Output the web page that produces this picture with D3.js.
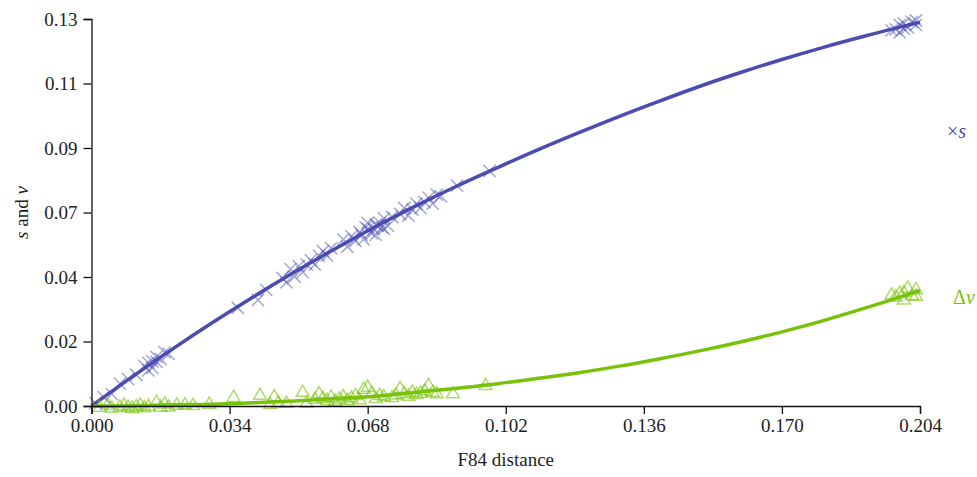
<!DOCTYPE html>
<html>
<head>
<meta charset="utf-8">
<script src="https://cdn.jsdelivr.net/npm/d3@7"></script>
<style>
body{margin:0;background:#fff}
svg text{font-family:"Liberation Serif","Times New Roman",Times,"DejaVu Serif",serif}
</style>
</head>
<body>
<div class="chart"></div>
<script>
// x ticks and y ticks
let xTicks=[0,0.034,0.068,0.102,0.136,0.170,0.204]
let yTicks=[0,0.13/6,0.26/6,0.39/6,0.52/6,0.65/6,0.13]

// fitted curves
let curveX=[0,0.01,0.02,0.03,0.04,0.05,0.06,0.07,0.08,0.09,0.1,0.11,0.12,0.13,0.14,0.15,0.16,0.17,0.18,0.19,0.2,0.204]
let sCurve=[0,0.0098,0.0192,0.0282,0.0368,0.045,0.0528,0.0603,0.0673,0.0739,0.0801,0.0861,0.0918,0.0973,0.1025,0.1075,0.1121,0.1164,0.1204,0.1241,0.1276,0.1289]
let vCurve=[0,0.0001,0.0004,0.0006,0.0011,0.0017,0.0025,0.0033,0.0046,0.006,0.0075,0.0093,0.0112,0.0134,0.0159,0.0186,0.0216,0.0249,0.0286,0.0327,0.0370,0.0388]

// scattered s points
let sPoints=[[0.001,0.001],[0.003,0.003],[0.005,0.004],[0.007,0.0075],[0.009,0.009],[0.011,0.0105],[0.013,0.0135],[0.014,0.0145],[0.015,0.015],[0.016,0.0165],[0.017,0.0158],[0.018,0.018],[0.019,0.0175],[0.014,0.012],[0.016,0.0148],[0.015,0.0128],
[0.036,0.033],[0.041,0.0356],[0.043,0.039],
[0.047,0.043],[0.048,0.0415],[0.049,0.046],[0.050,0.0435],[0.051,0.047],[0.052,0.045],[0.053,0.0475],[0.054,0.049],[0.055,0.0475],[0.056,0.0505],[0.057,0.052],[0.058,0.0505],[0.059,0.053],
[0.062,0.056],[0.063,0.0535],[0.064,0.057],[0.065,0.0555],[0.066,0.0585],[0.067,0.056],[0.068,0.0595],[0.068,0.0615],[0.069,0.058],[0.070,0.061],[0.070,0.0575],[0.071,0.0615],[0.072,0.0595],[0.072,0.063],[0.073,0.0605],[0.074,0.0635],
[0.0665,0.0575],[0.0675,0.06],[0.0695,0.0595],[0.0705,0.0605],[0.0715,0.06],
[0.076,0.0645],[0.077,0.0665],[0.078,0.064],[0.079,0.066],[0.080,0.068],[0.081,0.0665],[0.082,0.0685],[0.083,0.07],[0.084,0.068],[0.085,0.071],[0.086,0.0705],
[0.090,0.074],[0.098,0.079],
[0.198,0.1265],[0.199,0.1255],[0.199,0.128],[0.200,0.1268],[0.2,0.1285],[0.201,0.1272],[0.202,0.129],[0.203,0.1295],[0.203,0.128],[0.197,0.1262]]

// scattered v points
let vPoints=[[0.002,-0.0005],[0.004,0.0002],[0.005,-0.0008],[0.007,-0.0004],[0.008,0.0001],[0.009,-0.0006],[0.010,-0.0009],[0.011,-0.0003],[0.012,0.0002],[0.013,-0.0007],[0.014,-0.0002],[0.016,0.0012],[0.017,-0.0005],[0.018,0.0006],[0.019,-0.0004],[0.021,0.0002],[0.023,0.0003],[0.025,0.0001],[0.029,0.0005],[0.035,0.0028],
[0.044,0.0005],[0.046,0.001],[0.048,0.0008],
[0.0415,0.0035],[0.045,0.003],
[0.052,0.0045],[0.053,0.0008],[0.055,0.0022],[0.056,0.004],[0.057,0.0025],[0.058,0.0018],[0.059,0.0028],[0.06,0.0015],[0.061,0.0022],[0.062,0.003],[0.063,0.0018],[0.064,0.0026],[0.065,0.0034],[0.066,0.002],[0.067,0.0055],[0.068,0.0062],[0.069,0.0042],[0.070,0.0024],[0.071,0.0035],[0.072,0.003],
[0.074,0.0028],[0.075,0.0036],[0.076,0.0058],[0.077,0.004],[0.078,0.0032],[0.079,0.0045],[0.080,0.0038],[0.081,0.0042],[0.082,0.005],[0.083,0.0068],[0.084,0.0045],[0.085,0.004],[0.089,0.004],
[0.097,0.0068],
[0.198,0.0365],[0.199,0.0378],[0.2,0.038],[0.200,0.0355],[0.201,0.0395],[0.202,0.037],[0.203,0.039],[0.203,0.0368],[0.197,0.0372]]

let w=977, h=477
let padL=91.5, padR=920, padT=19, padB=406
let blue='#4b4bb4', green='#78c30a'

let svg=d3.select('.chart').append('svg').attr('width',w).attr('height',h)
let xScale=d3.scaleLinear().domain([0,0.204]).range([padL,padR])
let yScale=d3.scaleLinear().domain([0,0.13]).range([padB,padT])

// lines
let line=d3.line().x((d)=>xScale(d[0])).y((d)=>yScale(d[1])).curve(d3.curveMonotoneX)
svg.append('path').datum(curveX.map((x,i)=>[x,sCurve[i]])).attr('d',line)
    .attr('fill','none').attr('stroke',blue).attr('stroke-width',3.5)
svg.append('path').datum(curveX.map((x,i)=>[x,vCurve[i]])).attr('d',line)
    .attr('fill','none').attr('stroke',green).attr('stroke-width',3.5)

// markers
let cross=d3.symbol(d3.symbolX,100)
svg.selectAll('.sdot').data(sPoints).enter().append('path').attr('class','sdot')
    .attr('d',cross).attr('transform',(d)=>'translate('+xScale(d[0])+','+yScale(d[1])+')')
    .attr('fill','none').attr('stroke',blue).attr('stroke-width',1.5).style('opacity',0.5)
let tri=d3.symbol(d3.symbolTriangle2,120)
svg.selectAll('.vdot').data(vPoints).enter().append('path').attr('class','vdot')
    .attr('d',tri).attr('transform',(d)=>'translate('+xScale(d[0])+','+yScale(d[1])+')')
    .attr('fill','none').attr('stroke',green).attr('stroke-width',1.5).style('opacity',0.6)

// axes
let xAxis=d3.axisBottom(xScale).tickValues(xTicks).tickFormat(d3.format('.3f')).tickSizeOuter(0).tickSize(8).tickPadding(5)
let yAxis=d3.axisLeft(yScale).tickValues(yTicks).tickFormat(d3.format('.2f')).tickSizeOuter(0).tickSize(8).tickPadding(6)
svg.append('g').attr('transform','translate(0,'+padB+')').call(xAxis).attr('font-family',null)
svg.append('g').attr('transform','translate('+padL+',0)').call(yAxis).attr('font-family',null)
svg.selectAll('.tick text').style('font-size','19px').attr('fill','#222')
svg.selectAll('.domain,.tick line').attr('stroke','#111').attr('stroke-width',1.3)

// titles
svg.append('text').text('F84 distance').attr('x',(padL+padR)/2).attr('y',466)
    .attr('text-anchor','middle').style('font-size','19px').attr('fill','#222')
let yt=svg.append('text').attr('transform','translate(28,'+(padT+padB)/2+') rotate(-90)')
    .attr('text-anchor','middle').style('font-size','19px').attr('fill','#222')
yt.append('tspan').text('s').style('font-style','italic')
yt.append('tspan').text(' and ')
yt.append('tspan').text('v').style('font-style','italic')

// legend
let lg1=svg.append('text').attr('x',947).attr('y',138).style('font-size','20px').attr('fill',blue)
lg1.append('tspan').text('×')
lg1.append('tspan').text('s').style('font-style','italic')
let lg2=svg.append('text').attr('x',953).attr('y',304).style('font-size','20px').attr('fill',green)
lg2.append('tspan').text('Δ')
lg2.append('tspan').text('v').style('font-style','italic')
</script>
</body>
</html>
